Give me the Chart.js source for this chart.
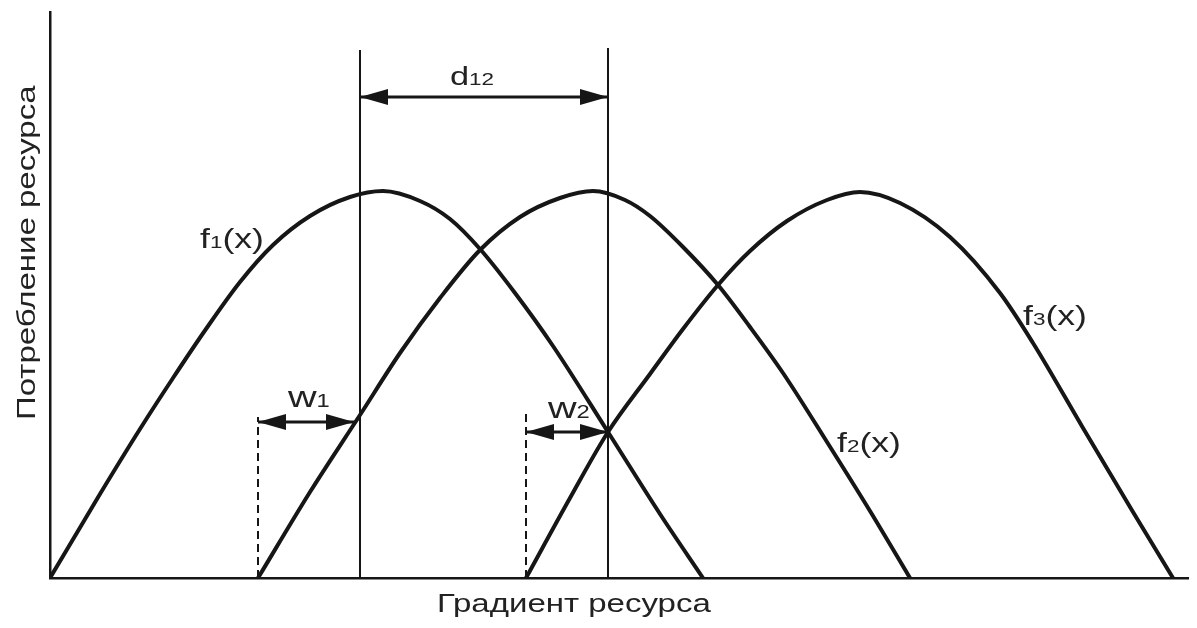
<!DOCTYPE html>
<html>
<head>
<meta charset="utf-8">
<script src="https://cdn.jsdelivr.net/npm/chart.js@4/dist/chart.umd.min.js"></script>
<style>
  html, body { margin: 0; padding: 0; background: #fff; }
  #chart { display: block; }
</style>
</head>
<body>
<canvas id="chart" width="1197" height="628"></canvas>
<script>
// curve samples (x = resource gradient, y = consumption)
const f1X = [0, 5, 9, 12.3, 15.6, 19, 22.3, 26, 30, 33.3, 37, 40, 43, 46.5, 50.3, 55.8, 61, 65.3];
const f1Y = [0, 8.4, 14.9, 20.0, 24.9, 29.6, 33.3, 36.2, 38.1, 38.7, 37.7, 35.9, 32.9, 28.5, 23.2, 14.6, 6.4, 0];

const f2X = [20.8, 26, 31, 35, 39, 43, 47, 51, 54.3, 57.5, 60, 63.3, 66.8, 70, 73.3, 77.7, 82, 86];
const f2Y = [0, 8.6, 16.3, 22.5, 28.0, 32.8, 36.1, 38.0, 38.7, 37.8, 36.2, 33.1, 29.3, 25.1, 20.5, 13.6, 6.7, 0];

const f3X = [47.6, 52, 55.8, 60, 63.3, 66.8, 70, 73.7, 77.7, 81, 85, 90, 95, 98.3, 103.3, 108.3, 112.3];
const f3Y = [0, 8.0, 14.6, 20.4, 24.9, 29.3, 32.7, 35.7, 37.8, 38.6, 37.5, 34.1, 28.5, 23.5, 15.0, 6.6, 0];

// marker lines: niche centres (solid) and curve starts (dashed)
const centreX = [31, 55.8];
const centreTop = [52.8, 53.0];
const startX = [20.8, 47.6];
const startTop = [16.1, 16.8];

// dimension arrows: [from, to, level]
const d12 = [31, 55.8, 48.1];
const w1 = [20.8, 30.4, 15.6];
const w2 = [47.6, 55.8, 14.6];

const X_MAX = 113.8;
const Y_MAX = 56.6;

const INK = '#161616';
const TEXT_INK = '#222222';
const FONT = '"Liberation Sans", Arial, Helvetica, sans-serif';
const STRETCH = 1.32;

// text labels: parts are [text, font size]
const labels = [
    { x: 15.0, y: 33.0, parts: [['f', 27], ['1', 17], ['(x)', 27]] },
    { x: 78.7, y: 12.6, parts: [['f', 27], ['2', 17], ['(x)', 27]] },
    { x: 97.3, y: 25.3, parts: [['f', 27], ['3', 17], ['(x)', 27]] },
    { x: 40.0, y: 49.3, parts: [['d', 26], ['12', 17]] },
    { x: 23.8, y: 17.1, parts: [['w', 30], ['1', 18]] },
    { x: 49.8, y: 16.0, parts: [['w', 30], ['2', 18]] },
    { x: 38.7, y: -3.4, parts: [['Градиент ресурса', 25]] },
    { x: -1.5, y: 15.8, rotate: -90, parts: [['Потребление ресурса', 25]] }
];

function toPoints(xs, ys) {
    return xs.map((x, i) => ({ x: x, y: ys[i] }));
}

function arrowHead(len, half) {
    const c = document.createElement('canvas');
    c.width = len * 2;
    c.height = half * 2;
    const g = c.getContext('2d');
    g.fillStyle = INK;
    g.beginPath();
    g.moveTo(0, 0);
    g.lineTo(len, half);
    g.lineTo(0, half * 2);
    g.closePath();
    g.fill();
    return c;
}

const head = arrowHead(28, 8);

function curve(xs, ys) {
    return {
        data: toPoints(xs, ys),
        showLine: true,
        borderColor: INK,
        borderWidth: 4,
        cubicInterpolationMode: 'monotone',
        pointRadius: 0
    };
}

function vline(x, top, dashed) {
    return {
        data: [{ x: x, y: 0 }, { x: x, y: top }],
        showLine: true,
        borderColor: INK,
        borderWidth: 2,
        borderDash: dashed ? [8, 5] : [],
        pointRadius: 0
    };
}

function arrow(a) {
    return {
        data: [{ x: a[0], y: a[2] }, { x: a[1], y: a[2] }],
        showLine: true,
        borderColor: INK,
        borderWidth: 3,
        pointStyle: head,
        pointRadius: 2,
        pointRotation: [180, 0]
    };
}

const labelPlugin = {
    id: 'labels',
    afterDatasetsDraw(chart) {
        const { ctx, scales: { x, y } } = chart;
        ctx.save();
        ctx.fillStyle = TEXT_INK;
        ctx.textAlign = 'left';
        ctx.textBaseline = 'alphabetic';
        labels.forEach(l => {
            ctx.save();
            ctx.translate(x.getPixelForValue(l.x), y.getPixelForValue(l.y));
            if (l.rotate) ctx.rotate(l.rotate * Math.PI / 180);
            ctx.scale(STRETCH, 1);
            let cx = 0;
            l.parts.forEach(([t, size]) => {
                ctx.font = size + 'px ' + FONT;
                ctx.fillText(t, cx, 0);
                cx += ctx.measureText(t).width;
            });
            ctx.restore();
        });
        ctx.restore();
    }
};

const ctx = document.getElementById('chart').getContext('2d');

new Chart(ctx, {
    type: 'scatter',
    data: {
        datasets: [
            curve(f1X, f1Y),
            curve(f2X, f2Y),
            curve(f3X, f3Y),
            vline(centreX[0], centreTop[0], false),
            vline(centreX[1], centreTop[1], false),
            vline(startX[0], startTop[0], true),
            vline(startX[1], startTop[1], true),
            arrow(d12),
            arrow(w1),
            arrow(w2)
        ]
    },
    options: {
        responsive: false,
        animation: false,
        layout: {
            padding: { left: 50, right: 9, top: 12, bottom: 50 }
        },
        plugins: {
            legend: { display: false },
            tooltip: { enabled: false }
        },
        scales: {
            x: {
                type: 'linear',
                min: 0,
                max: X_MAX,
                ticks: { display: false },
                grid: { display: false },
                border: { display: true, color: INK, width: 2.5 },
                afterFit: function (scale) { scale.height = 0; }
            },
            y: {
                type: 'linear',
                min: 0,
                max: Y_MAX,
                ticks: { display: false },
                grid: { display: false },
                border: { display: true, color: INK, width: 2.5 },
                afterFit: function (scale) { scale.width = 0; }
            }
        }
    },
    plugins: [labelPlugin]
});
</script>
</body>
</html>
